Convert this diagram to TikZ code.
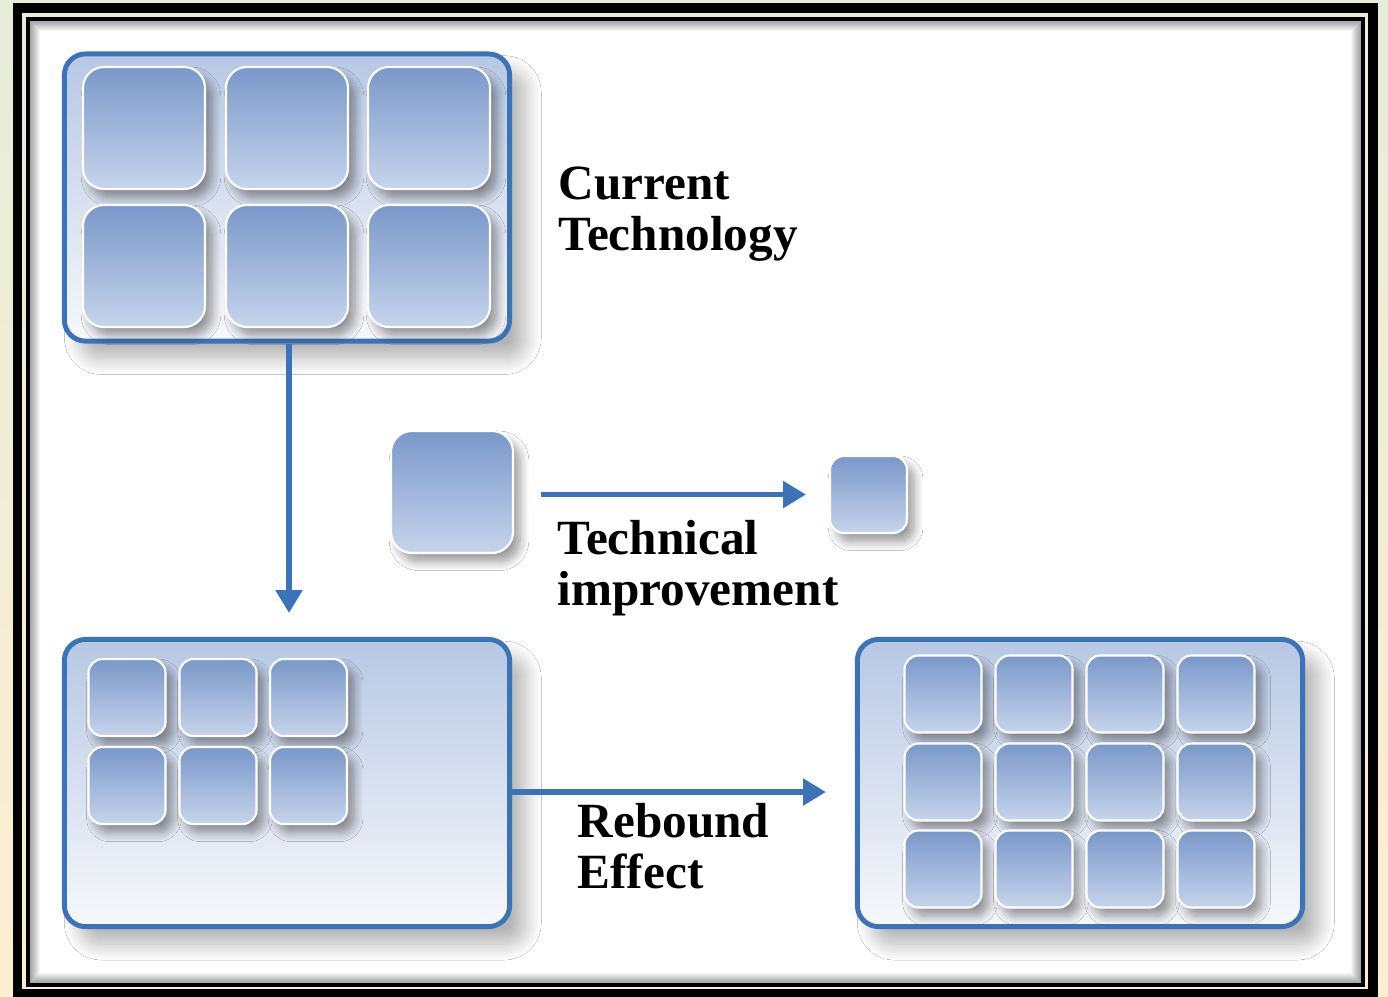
\documentclass[tikz,border=0pt]{standalone}
\usepackage{fontspec}
\setmainfont{Liberation Serif}
\definecolor{rb-blue}{HTML}{3A73B7}
\definecolor{rb-tiletop}{HTML}{7998C9}
\definecolor{rb-tilebot}{HTML}{C7D4EC}
\definecolor{rb-paneltop}{HTML}{B7C8E4}
\definecolor{rb-panelbot}{HTML}{F7F8FB}
\definecolor{rb-green}{HTML}{E6EDD9}
\definecolor{rb-pink}{HTML}{F6E4D9}
\definecolor{rb-cream}{HTML}{FDEDD1}
\usetikzlibrary{calc,positioning,arrows.meta,shadows.blur}

\begin{document}
\begin{tikzpicture}[
  x=0.01cm, y=-0.01cm,
  every node/.style={align=center},
  panel/.style={rectangle, draw=rb-blue, line width=1.4pt, rounded corners=6pt, minimum width=4.45cm, minimum height=2.87cm, top color=rb-paneltop, bottom color=rb-panelbot, blur shadow={shadow xshift=4.5pt, shadow yshift=-5pt, shadow blur radius=4.5pt, shadow blur steps=16, shadow opacity=30}},
  tile/.style={rectangle, draw=white, line width=0.6pt, rounded corners=6pt, minimum size=1.22cm, top color=rb-tiletop, bottom color=rb-tilebot, blur shadow={shadow xshift=2pt, shadow yshift=-2.5pt, shadow blur radius=2.5pt, shadow blur steps=10, shadow opacity=40}},
  mini/.style={tile, rounded corners=4pt, minimum size=0.77cm},
  arrow/.style={-{Triangle[length=6.5pt, width=7.4pt]}, line width=1.5pt, rb-blue},
  note/.style={anchor=north west, inner sep=0pt, align=left, font=\fontsize{14}{14.5}\selectfont\bfseries}
]
  \useasboundingbox (0,0) rectangle (1388,996);

  % paper and double frame
  \fill[top color=rb-green, middle color=rb-pink, bottom color=rb-cream] (0,0) rectangle (1388,996);
  \fill[white] (28,19) rectangle (1363,985);
  \begin{scope}
    \clip (28,19) rectangle (1363,985);
    \foreach \k in {1,...,12}
      \draw[black, opacity=0.04, line width=\k*0.57pt] (28,19) rectangle (1363,985);
  \end{scope}
  \draw[line width=1.1pt] (28,19) rectangle (1363,985);
  \draw[line width=2.7pt] (17.5,8) rectangle (1373,994);

  % panels
  \node[panel] (cur) at (287,197.5) {};
  \node[panel] (reb) at (287,783) {};
  \node[panel] (big) at (1080,783) {};

  \foreach \x [count=\i] in {144,287,429}
    \foreach \y [count=\j] in {128,266}
      \node[tile] (cur-\j\i) at (\x,\y) {};
  \foreach \x [count=\i] in {127,218,308.5}
    \foreach \y [count=\j] in {697.5,785.5}
      \node[mini] (reb-\j\i) at (\x,\y) {};
  \foreach \x [count=\i] in {943,1034,1125,1216}
    \foreach \y [count=\j] in {694,782,869}
      \node[mini] (big-\j\i) at (\x,\y) {};

  \node[tile] (old) at (452,492) {};
  \node[mini] (new) at (868.5,494.5) {};

  % connectors
  \draw[arrow, shorten >=0.24cm] ([xshift=0.02cm]cur.south) -- ([xshift=0.02cm]reb.north);
  \draw[arrow, shorten <=0.27cm, shorten >=0.23cm] (old.east |- new.west) -- (new.west);
  \draw[arrow, shorten >=0.29cm] ([yshift=-0.09cm]reb.east) -- ([yshift=-0.09cm]big.west);

  \node[note] (cur-txt) at (558,166) {Current\\Technology};
  \node[note] (imp-txt) at (557,520) {Technical\\improvement};
  \node[note] (reb-txt) at (577,803) {Rebound\\Effect};
\end{tikzpicture}
\end{document}
